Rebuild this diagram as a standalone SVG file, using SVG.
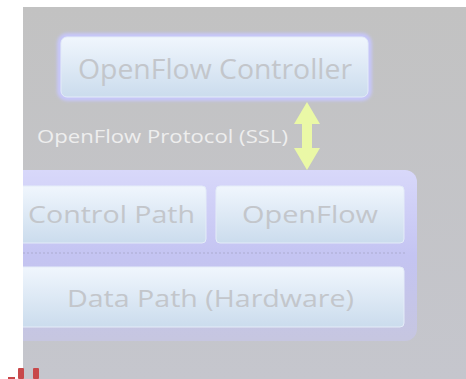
<svg xmlns="http://www.w3.org/2000/svg" width="466" height="379" viewBox="0 0 466 379">
  <defs>
    <linearGradient id="bg" x1="0" y1="0" x2="0" y2="1">
      <stop offset="0" stop-color="#c2c2c2"/>
      <stop offset="1" stop-color="#c5c6cd"/>
    </linearGradient>
    <linearGradient id="box" x1="0" y1="0" x2="0" y2="1">
      <stop offset="0" stop-color="#f0f6fd"/>
      <stop offset="1" stop-color="#cbdced"/>
    </linearGradient>
    <linearGradient id="sw" x1="0" y1="0" x2="0" y2="1">
      <stop offset="0" stop-color="#d8d8fa"/>
      <stop offset="0.5" stop-color="#c4c4f2"/>
      <stop offset="1" stop-color="#c6c6e0"/>
    </linearGradient>
    <clipPath id="gray">
      <rect x="23" y="7" width="443" height="372"/>
    </clipPath>
    <filter id="soft" x="-10%" y="-10%" width="120%" height="120%">
      <feGaussianBlur stdDeviation="1.5"/>
    </filter>
  </defs>
  <style>
    .bx { fill: url(#box); stroke: #e4ecf8; stroke-width: 1; }
    .t { font-family: "Open Sans", "Noto Sans", "Liberation Sans", sans-serif; fill: #c3c6cb; text-anchor: middle; font-weight: 500; }
    .lbl { font-family: "Open Sans", "Noto Sans", "Liberation Sans", sans-serif; fill: #eeeeee; font-weight: 500; }
  </style>
  <rect width="466" height="379" fill="#ffffff"/>
  <rect x="23" y="7" width="443" height="372" fill="url(#bg)"/>
  <g clip-path="url(#gray)">
    <g id="controller">
      <rect x="57" y="33" width="315" height="68" rx="10" fill="#c6c6f8" filter="url(#soft)"/>
      <rect x="61" y="37" width="307" height="60" rx="6" class="bx"/>
      <text x="215" y="79" class="t" font-size="28" textLength="274" lengthAdjust="spacingAndGlyphs">OpenFlow Controller</text>
    </g>
    <g id="switch">
      <rect x="10" y="170" width="407" height="171" rx="12" fill="url(#sw)"/>
      <line x1="23" y1="253" x2="406" y2="253" stroke="#b4b4dc" stroke-width="1.5" stroke-dasharray="2 2"/>
    </g>
    <g id="control-path">
      <rect x="14" y="186" width="192" height="57" rx="4" class="bx"/>
      <text x="111.5" y="223" class="t" font-size="24" textLength="167" lengthAdjust="spacingAndGlyphs">Control Path</text>
    </g>
    <g id="openflow">
      <rect x="216" y="186" width="188" height="57" rx="4" class="bx"/>
      <text x="310" y="223" class="t" font-size="24" textLength="136" lengthAdjust="spacingAndGlyphs">OpenFlow</text>
    </g>
    <g id="data-path">
      <rect x="14" y="267" width="390" height="60" rx="4" class="bx"/>
      <text x="210.5" y="307" class="t" font-size="24" textLength="287" lengthAdjust="spacingAndGlyphs">Data Path (Hardware)</text>
    </g>
    <g id="connectors">
      <path d="M307 102 L320 124 L312 124 L312 148 L320 148 L307 170 L294 148 L302 148 L302 124 L294 124 Z" fill="#eaf8a6"/>
      <text x="37" y="143" class="lbl" font-size="18" textLength="251" lengthAdjust="spacingAndGlyphs">OpenFlow Protocol (SSL)</text>
    </g>
  </g>
  <g id="corner-mark" fill="#c8484a">
    <rect x="8" y="377" width="7" height="2"/>
    <rect x="18" y="368" width="6" height="11" rx="1"/>
    <rect x="33" y="368" width="6" height="11" rx="1"/>
  </g>
</svg>
